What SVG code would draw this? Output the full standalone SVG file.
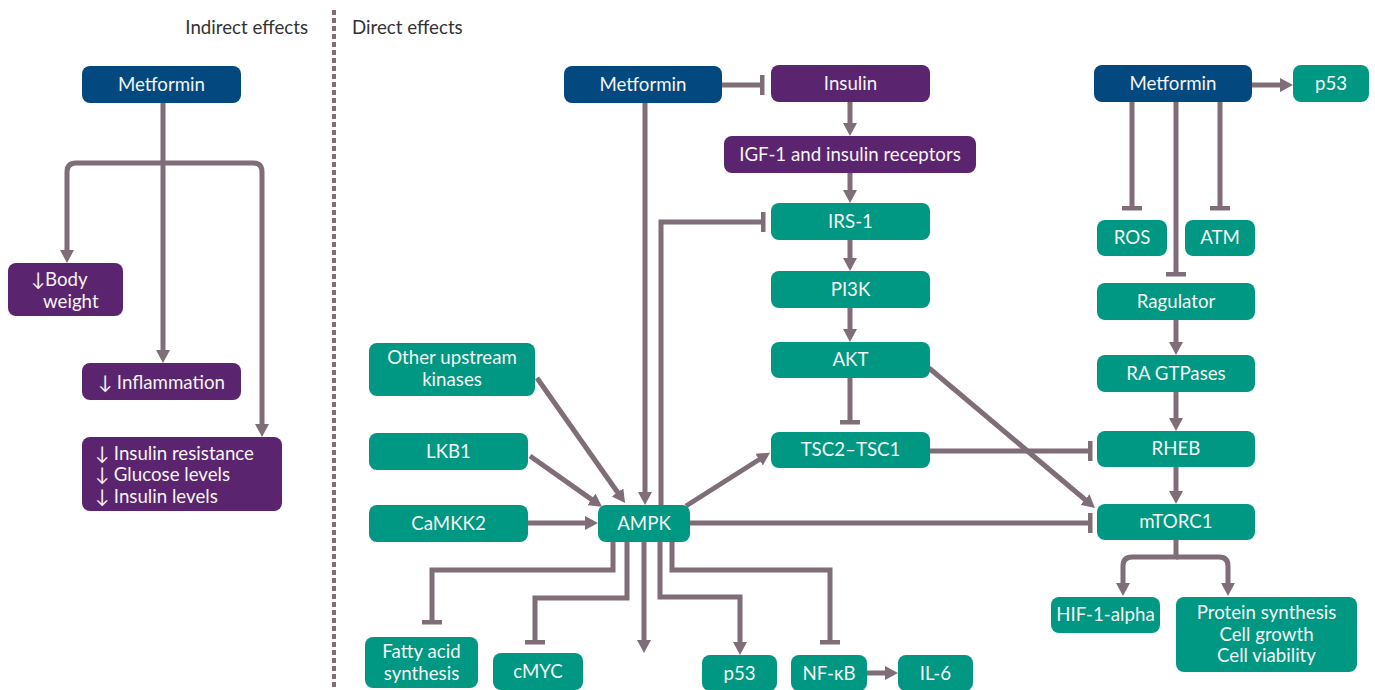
<svg xmlns="http://www.w3.org/2000/svg" width="1375" height="690" viewBox="0 0 1375 690">
<style>
.n rect{rx:8;ry:8}
.blue rect{fill:#03497f}
.pur rect{fill:#5b246e}
.teal rect{fill:#009882}
.n text{font-family:Lato,"Open Sans",sans-serif;font-size:18.7px;fill:#f4f4f4;text-anchor:middle}
.n text.l{text-anchor:start}
.hdr{font-family:Lato,"Open Sans",sans-serif;font-size:18.7px;fill:#333333}
#connectors path{fill:none;stroke:#7f6d78;stroke-width:5}
</style>
<defs>
<marker id="arr" viewBox="0 0 13 14" refX="3" refY="7" markerWidth="13" markerHeight="14" markerUnits="userSpaceOnUse" orient="auto">
<path d="M0,0 L13,7 L0,14 z" fill="#7f6d78"/>
</marker>
<marker id="bar" viewBox="0 0 5 20" refX="2.5" refY="10" markerWidth="5" markerHeight="20" markerUnits="userSpaceOnUse" orient="auto">
<rect x="0" y="0" width="5" height="20" fill="#7f6d78"/>
</marker>
</defs>
<rect width="1375" height="690" fill="#ffffff"/>
<line x1="334" y1="10" x2="334" y2="690" stroke="#7f6d78" stroke-width="4" stroke-dasharray="5 3"/>
<text class="hdr" x="308" y="34" text-anchor="end">Indirect effects</text>
<text class="hdr" x="352" y="34">Direct effects</text>

<g id="connectors">
<path d="M163,103 V353" marker-end="url(#arr)"/>
<path d="M163,163 H76 Q67,163 67,172 V253" marker-end="url(#arr)"/>
<path d="M163,163 H253 Q262,163 262,172 V427" marker-end="url(#arr)"/>
<path d="M722,85 H762" marker-end="url(#bar)"/>
<path d="M850,102 V126" marker-end="url(#arr)"/>
<path d="M850,173 V193" marker-end="url(#arr)"/>
<path d="M850,240 V261" marker-end="url(#arr)"/>
<path d="M850,308 V332" marker-end="url(#arr)"/>
<path d="M850,378 V422" marker-end="url(#bar)"/>
<path d="M645,103 V495" marker-end="url(#arr)"/>
<path d="M661,505 V222 H763" marker-end="url(#bar)"/>
<path d="M537,378 L619.3,494.8" marker-end="url(#arr)"/>
<path d="M530,456 L593.9,501.1" marker-end="url(#arr)"/>
<path d="M528,523 H588" marker-end="url(#arr)"/>
<path d="M686,506 L761.6,458" marker-end="url(#arr)"/>
<path d="M690,523 H1090" marker-end="url(#bar)"/>
<path d="M930,451 H1090" marker-end="url(#bar)"/>
<path d="M929,368 L1087.3,501.5" marker-end="url(#arr)"/>
<path d="M613,542 V570 H432 V622" marker-end="url(#bar)"/>
<path d="M627,542 V598 H535 V642" marker-end="url(#bar)"/>
<path d="M644,542 V643" marker-end="url(#arr)"/>
<path d="M660,542 V597 H740 V645" marker-end="url(#arr)"/>
<path d="M672,542 V570 H830 V642" marker-end="url(#bar)"/>
<path d="M867,673 H888" marker-end="url(#arr)"/>
<path d="M1252,85 H1283" marker-end="url(#arr)"/>
<path d="M1132,102 V208" marker-end="url(#bar)"/>
<path d="M1220,102 V208" marker-end="url(#bar)"/>
<path d="M1176,102 V274" marker-end="url(#bar)"/>
<path d="M1176,320 V345" marker-end="url(#arr)"/>
<path d="M1176,392 V421" marker-end="url(#arr)"/>
<path d="M1176,467 V494" marker-end="url(#arr)"/>
<path d="M1176,540 V557 H1132 Q1123,557 1123,566 V586" marker-end="url(#arr)"/>
<path d="M1176,557 H1219 Q1228,557 1228,566 V586" marker-end="url(#arr)"/>
</g>

<g id="metformin-left" class="n blue"><rect x="82" y="66" width="159" height="37"/><text x="161.5" y="91">Metformin</text></g>
<g id="body-weight" class="n pur"><rect x="8" y="263" width="115" height="53"/><text class="l" x="31" y="286">↓Body</text><text class="l" x="43" y="308">weight</text></g>
<g id="inflammation" class="n pur"><rect x="82" y="363" width="159" height="37"/><text x="161.5" y="389">↓ Inflammation</text></g>
<g id="insulin-resistance" class="n pur"><rect x="82" y="437" width="200" height="74"/><text class="l" x="95" y="460">↓ Insulin resistance</text><text class="l" x="95" y="481">↓ Glucose levels</text><text class="l" x="95" y="503">↓ Insulin levels</text></g>

<g id="metformin-center" class="n blue"><rect x="564" y="66" width="158" height="37"/><text x="643" y="91">Metformin</text></g>
<g id="insulin" class="n pur"><rect x="771" y="65" width="159" height="37"/><text x="850.5" y="90">Insulin</text></g>
<g id="igf1" class="n pur"><rect x="724" y="136" width="252" height="37"/><text x="850" y="161">IGF-1 and insulin receptors</text></g>
<g id="irs1" class="n teal"><rect x="771" y="203" width="159" height="37"/><text x="850.5" y="228">IRS-1</text></g>
<g id="pi3k" class="n teal"><rect x="771" y="271" width="159" height="37"/><text x="850.5" y="296">PI3K</text></g>
<g id="akt" class="n teal"><rect x="771" y="342" width="159" height="36"/><text x="850.5" y="366">AKT</text></g>
<g id="tsc" class="n teal"><rect x="771" y="432" width="159" height="36"/><text x="850.5" y="456">TSC2–TSC1</text></g>
<g id="other-kinases" class="n teal"><rect x="369" y="343" width="166" height="53"/><text x="452" y="364">Other upstream</text><text x="452" y="386">kinases</text></g>
<g id="lkb1" class="n teal"><rect x="369" y="433" width="159" height="37"/><text x="448.5" y="458">LKB1</text></g>
<g id="camkk2" class="n teal"><rect x="369" y="505" width="159" height="37"/><text x="448.5" y="530">CaMKK2</text></g>
<g id="ampk" class="n teal"><rect x="598" y="505" width="92" height="37"/><text x="644" y="530">AMPK</text></g>
<g id="fatty-acid" class="n teal"><rect x="365" y="637" width="113" height="51"/><text x="421.5" y="658">Fatty acid</text><text x="421.5" y="680">synthesis</text></g>
<g id="cmyc" class="n teal"><rect x="493" y="653" width="90" height="37"/><text x="538" y="678">cMYC</text></g>
<g id="p53-center" class="n teal"><rect x="702" y="655" width="75" height="36"/><text x="739.5" y="680">p53</text></g>
<g id="nfkb" class="n teal"><rect x="791" y="655" width="76" height="36"/><text x="829" y="680">NF-κB</text></g>
<g id="il6" class="n teal"><rect x="898" y="655" width="75" height="36"/><text x="935.5" y="680">IL-6</text></g>

<g id="metformin-right" class="n blue"><rect x="1094" y="65" width="158" height="37"/><text x="1173" y="90">Metformin</text></g>
<g id="p53-right" class="n teal"><rect x="1293" y="65" width="76" height="37"/><text x="1331" y="90">p53</text></g>
<g id="ros" class="n teal"><rect x="1097" y="220" width="70" height="36"/><text x="1132" y="244">ROS</text></g>
<g id="atm" class="n teal"><rect x="1185" y="220" width="70" height="36"/><text x="1220" y="244">ATM</text></g>
<g id="ragulator" class="n teal"><rect x="1097" y="283" width="158" height="37"/><text x="1176" y="308">Ragulator</text></g>
<g id="ra-gtpases" class="n teal"><rect x="1097" y="355" width="158" height="37"/><text x="1176" y="380">RA GTPases</text></g>
<g id="rheb" class="n teal"><rect x="1097" y="431" width="158" height="36"/><text x="1176" y="455">RHEB</text></g>
<g id="mtorc1" class="n teal"><rect x="1097" y="504" width="158" height="36"/><text x="1176" y="528">mTORC1</text></g>
<g id="hif1a" class="n teal"><rect x="1051" y="597" width="109" height="36"/><text x="1105.5" y="621">HIF-1-alpha</text></g>
<g id="protein-synthesis" class="n teal"><rect x="1176" y="597" width="181" height="75"/><text x="1266.5" y="619">Protein synthesis</text><text x="1266.5" y="641">Cell growth</text><text x="1266.5" y="662">Cell viability</text></g>
</svg>
